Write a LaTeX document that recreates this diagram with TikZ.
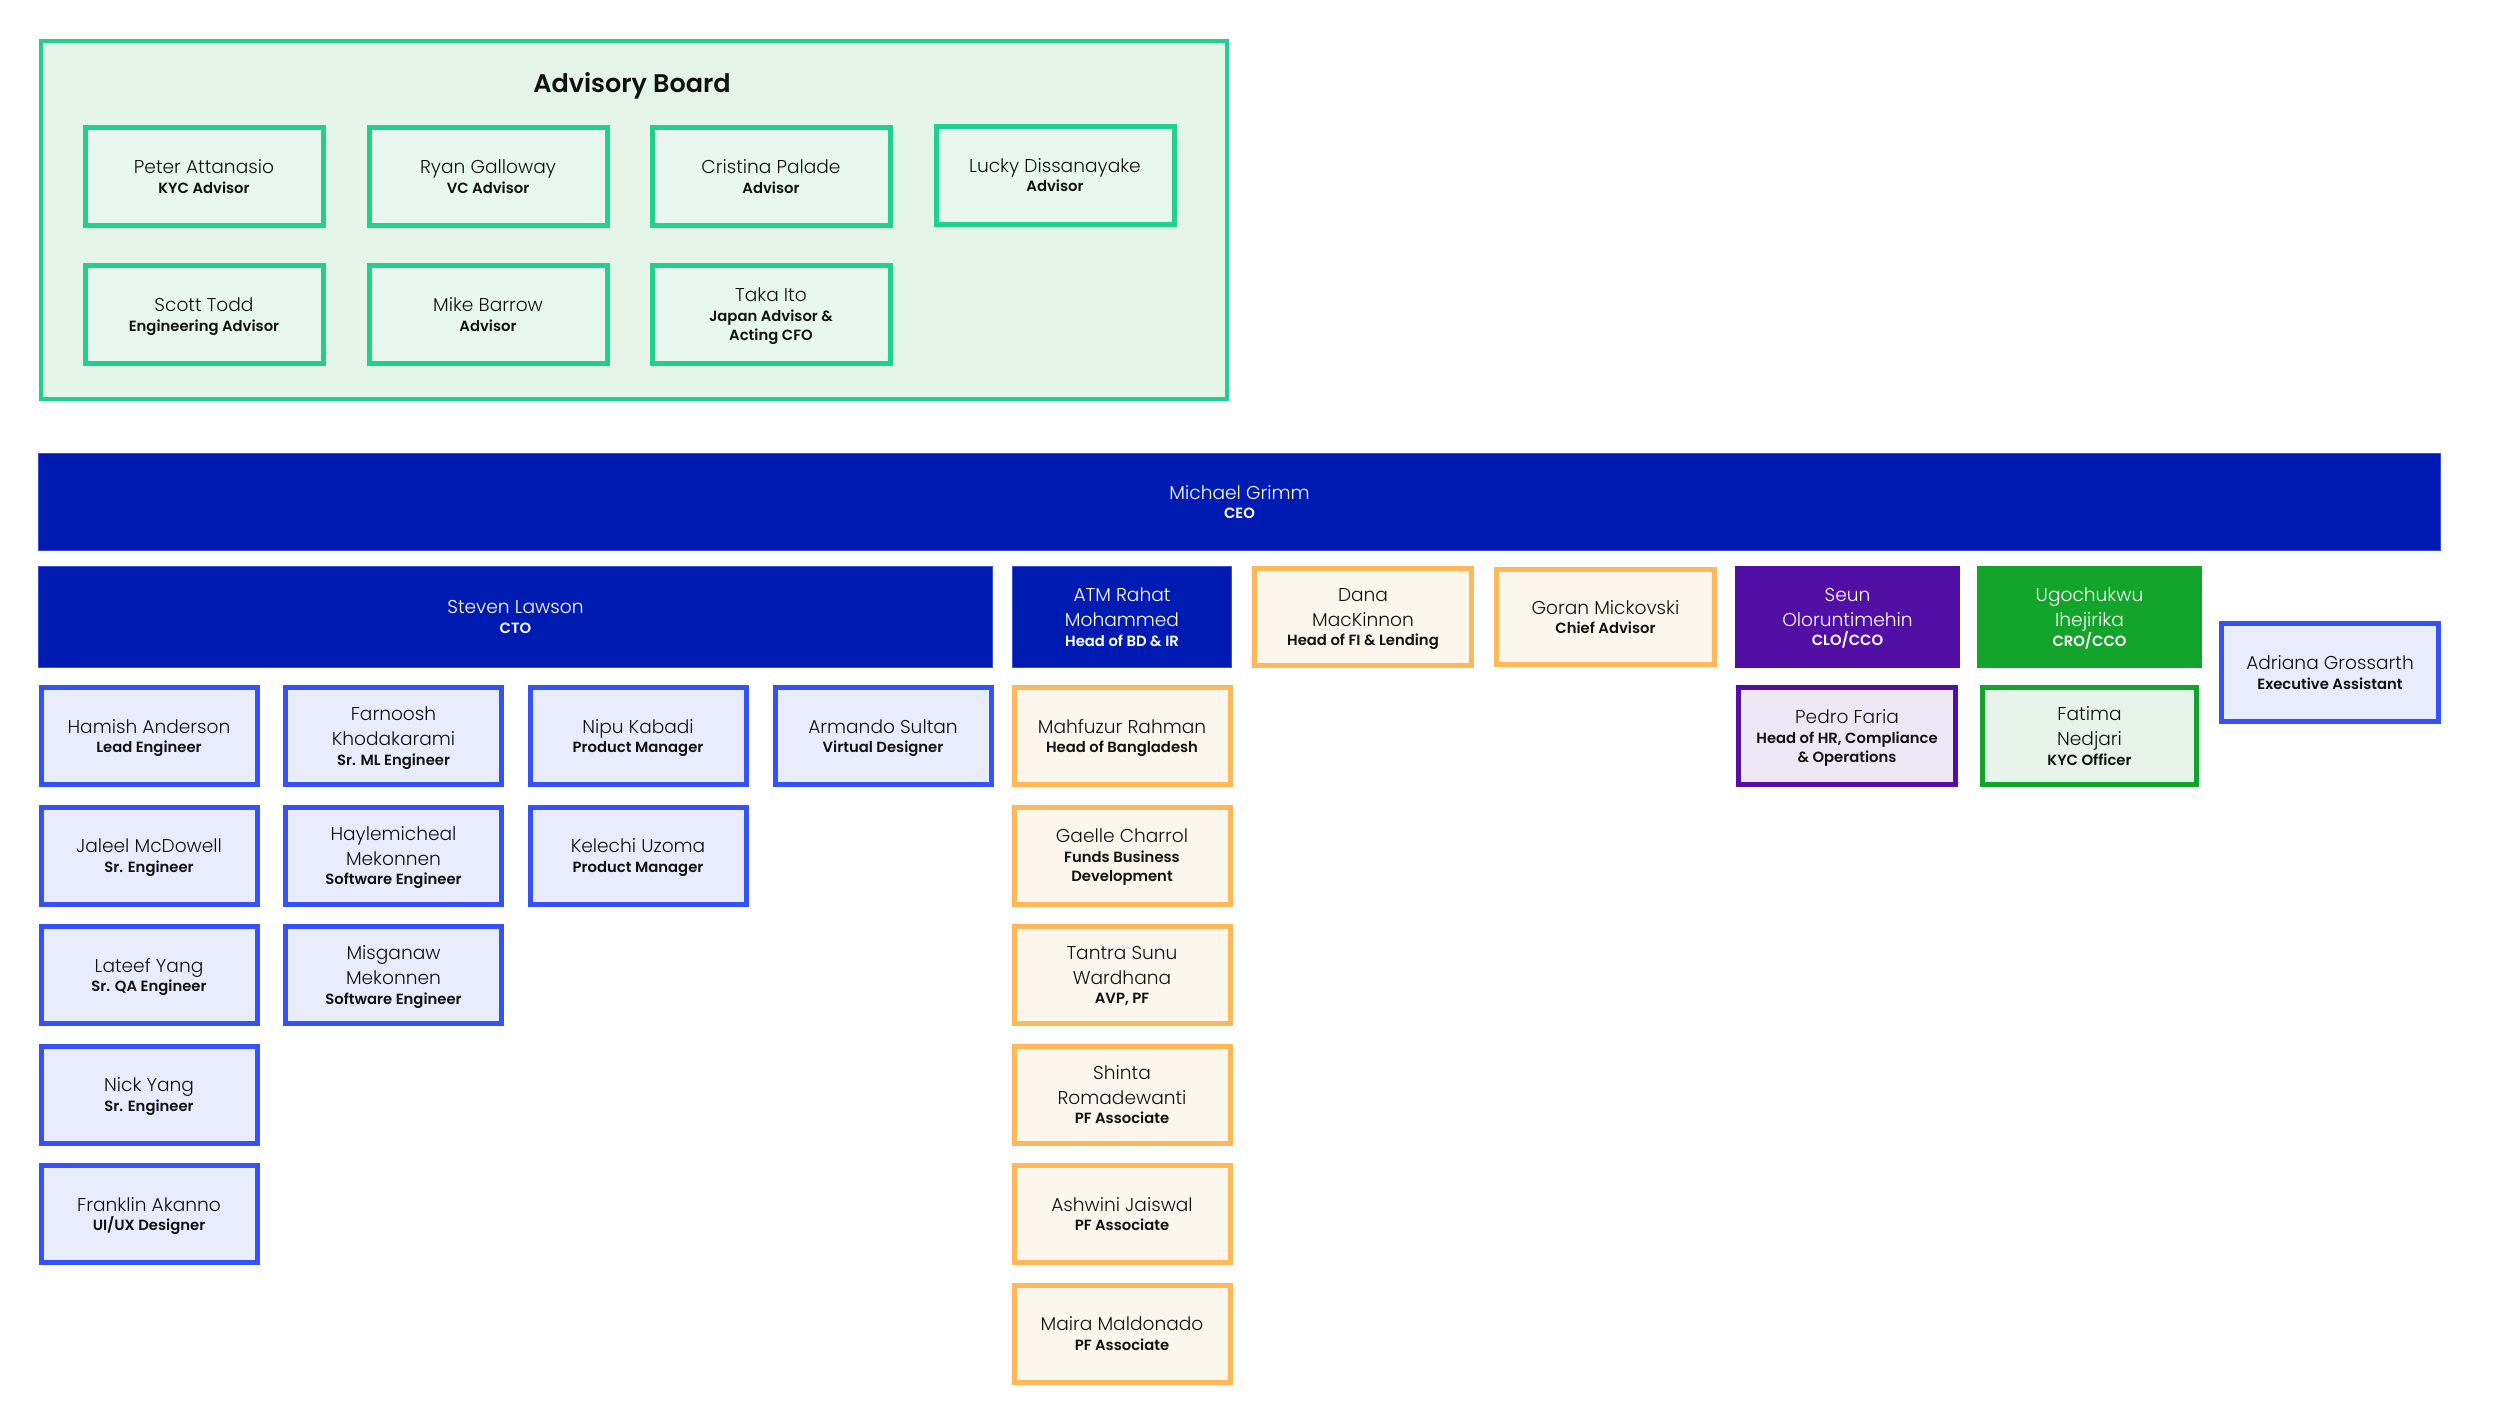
\documentclass[tikz,border=0pt]{standalone}
\usepackage{fontspec}
\setmainfont{Poppins}[UprightFont=*-Light,BoldFont=*-SemiBold]

\definecolor{ink}{HTML}{111111}
\definecolor{advline}{HTML}{21CF8F}
\definecolor{advback}{HTML}{E5F5EA}
\definecolor{advfill}{HTML}{E8F8F1}
\definecolor{ceoblue}{HTML}{001BB2}
\definecolor{ceoline}{HTML}{3A4DD6}
\definecolor{teamline}{HTML}{3552F5}
\definecolor{teamfill}{HTML}{E9ECFC}
\definecolor{bdline}{HTML}{FDB85C}
\definecolor{bdfill}{HTML}{FDF6EC}
\definecolor{legal}{HTML}{520FA6}
\definecolor{legalfill}{HTML}{EEE7F5}
\definecolor{risk}{HTML}{13A52B}
\definecolor{riskfill}{HTML}{E6F4E9}

\newcommand{\rl}[1]{\fontsize{14.8}{19}\selectfont\bfseries #1}

\tikzset{
	card/.style={rectangle, align=center, inner sep=0pt, minimum width=216, minimum height=97, line width=5, text=ink, text depth=-2.5pt, font=\fontsize{18.6}{25}\selectfont},
	advcard/.style={card, draw=advline, fill=advfill, minimum width=238, minimum height=98},
	teamcard/.style={card, draw=teamline, fill=teamfill},
	bdcard/.style={card, draw=bdline, fill=bdfill},
	legalcard/.style={card, draw=legal, fill=legalfill},
	riskcard/.style={card, draw=risk, fill=riskfill},
	headcard/.style={card, text=white, line width=1, minimum height=101},
}

\begin{document}
\begin{tikzpicture}[x=1pt,y=-1pt]
	\useasboundingbox (0,0) rectangle (2500,1424);
	\node[draw=advline, fill=advback, line width=4, minimum width=1186, minimum height=358, inner sep=0pt] (board) at (634,220) {};
	\node[anchor=base, text=ink, font=\fontsize{25.5}{30}\selectfont\bfseries] (boardtitle) at (632,92) {Advisory Board};

	\node[advcard] (attanasio) at (204,176.5) {Peter Attanasio\\[-5.5pt]\rl{KYC Advisor}};
	\node[advcard] (galloway) at (488,176.5) {Ryan Galloway\\[-5.5pt]\rl{VC Advisor}};
	\node[advcard] (palade) at (771,176.5) {Cristina Palade\\[-5.5pt]\rl{Advisor}};
	\node[advcard] (dissanayake) at (1055,175) {Lucky Dissanayake\\[-5.5pt]\rl{Advisor}};
	\node[advcard] (todd) at (204,314.5) {Scott Todd\\[-5.5pt]\rl{Engineering Advisor}};
	\node[advcard] (barrow) at (488,314.5) {Mike Barrow\\[-5.5pt]\rl{Advisor}};
	\node[advcard] (ito) at (771,314.5) {Taka Ito\\[-5.5pt]\rl{Japan Advisor \&}\\[-5.5pt]\rl{Acting CFO}};

	\node[headcard, fill=ceoblue, draw=ceoline, minimum width=2402, minimum height=97] (grimm) at (1239.5,502) {Michael Grimm\\[-5.5pt]\rl{CEO}};

	\node[headcard, fill=ceoblue, draw=ceoline, minimum width=954] (lawson) at (515.5,617) {Steven Lawson\\[-5.5pt]\rl{CTO}};
	\node[headcard, fill=ceoblue, draw=ceoline, minimum width=219] (mohammed) at (1122,617) {ATM Rahat\\Mohammed\\[-5.5pt]\rl{Head of BD \& IR}};
	\node[bdcard, minimum width=217] (mackinnon) at (1363,617) {Dana\\MacKinnon\\[-5.5pt]\rl{Head of FI \& Lending}};
	\node[bdcard, minimum width=218, minimum height=95] (mickovski) at (1605.5,617) {Goran Mickovski\\[-5.5pt]\rl{Chief Advisor}};
	\node[headcard, fill=legal, draw=legal, minimum width=224] (oloruntimehin) at (1847.5,617) {Seun\\Oloruntimehin\\[-5.5pt]\rl{CLO/CCO}};
	\node[headcard, fill=risk, draw=risk, minimum width=224] (ihejirika) at (2089.5,617) {Ugochukwu\\Ihejirika\\[-5.5pt]\rl{CRO/CCO}};
	\node[teamcard, minimum width=217, minimum height=98] (grossarth) at (2330,672.5) {Adriana Grossarth\\[-5.5pt]\rl{Executive Assistant}};

	\node[teamcard] (anderson) at (149,736) {Hamish Anderson\\[-5.5pt]\rl{Lead Engineer}};
	\node[teamcard] (mcdowell) at (149,855.5) {Jaleel McDowell\\[-5.5pt]\rl{Sr. Engineer}};
	\node[teamcard] (lyang) at (149,975) {Lateef Yang\\[-5.5pt]\rl{Sr. QA Engineer}};
	\node[teamcard] (nyang) at (149,1094.5) {Nick Yang\\[-5.5pt]\rl{Sr. Engineer}};
	\node[teamcard] (akanno) at (149,1214) {Franklin Akanno\\[-5.5pt]\rl{UI/UX Designer}};
	\node[teamcard] (khodakarami) at (393.5,736) {Farnoosh\\Khodakarami\\[-5.5pt]\rl{Sr. ML Engineer}};
	\node[teamcard] (hmekonnen) at (393.5,855.5) {Haylemicheal\\Mekonnen\\[-5.5pt]\rl{Software Engineer}};
	\node[teamcard] (mmekonnen) at (393.5,975) {Misganaw\\Mekonnen\\[-5.5pt]\rl{Software Engineer}};
	\node[teamcard] (kabadi) at (638,736) {Nipu Kabadi\\[-5.5pt]\rl{Product Manager}};
	\node[teamcard] (uzoma) at (638,855.5) {Kelechi Uzoma\\[-5.5pt]\rl{Product Manager}};
	\node[teamcard] (sultan) at (883,736) {Armando Sultan\\[-5.5pt]\rl{Virtual Designer}};

	\node[bdcard] (rahman) at (1122,736) {Mahfuzur Rahman\\[-5.5pt]\rl{Head of Bangladesh}};
	\node[bdcard] (charrol) at (1122,855.5) {Gaelle Charrol\\[-5.5pt]\rl{Funds Business}\\[-5.5pt]\rl{Development}};
	\node[bdcard] (wardhana) at (1122,975) {Tantra Sunu\\Wardhana\\[-5.5pt]\rl{AVP, PF}};
	\node[bdcard] (romadewanti) at (1122,1094.5) {Shinta\\Romadewanti\\[-5.5pt]\rl{PF Associate}};
	\node[bdcard] (jaiswal) at (1122,1214) {Ashwini Jaiswal\\[-5.5pt]\rl{PF Associate}};
	\node[bdcard] (maldonado) at (1122,1333.5) {Maira Maldonado\\[-5.5pt]\rl{PF Associate}};

	\node[legalcard, minimum width=217] (faria) at (1847,736) {Pedro Faria\\[-5.5pt]\rl{Head of HR, Compliance}\\[-5.5pt]\rl{\& Operations}};
	\node[riskcard, minimum width=214] (nedjari) at (2089.5,736) {Fatima\\Nedjari\\[-5.5pt]\rl{KYC Officer}};
\end{tikzpicture}
\end{document}
